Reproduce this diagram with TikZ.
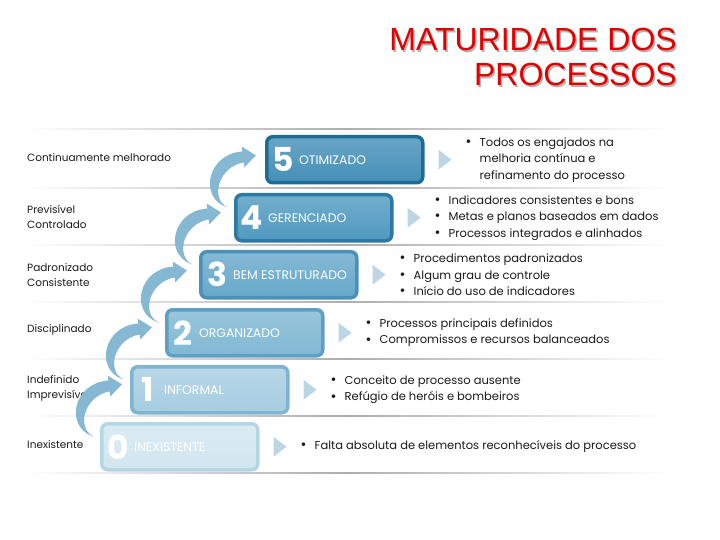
\documentclass[tikz,border=0pt]{standalone}
\usepackage{fontspec}
\setmainfont{Poppins}
\newfontfamily\titlefont{Liberation Sans}
\usetikzlibrary{calc}
\definecolor{titlered}{HTML}{E00000}
\definecolor{bf5}{HTML}{448FB7}\definecolor{bd5}{HTML}{1E6C92}
\definecolor{bf4}{HTML}{4F99C0}\definecolor{bd4}{HTML}{2C7AA1}
\definecolor{bf3}{HTML}{66A8CA}\definecolor{bd3}{HTML}{4A90B8}
\definecolor{bf2}{HTML}{80B8D3}\definecolor{bd2}{HTML}{5F9FC3}
\definecolor{bf1}{HTML}{A6CDE1}\definecolor{bd1}{HTML}{80B5D2}
\definecolor{bf0}{HTML}{D2E6F0}\definecolor{bd0}{HTML}{B6D6E6}
\definecolor{arrowc}{HTML}{86B8D3}
\definecolor{tric}{HTML}{BCD6E5}
\definecolor{txt}{HTML}{1A1A1A}
\newcommand{\bt}{\makebox[14bp][l]{\raisebox{-0.2bp}{\scalebox{1.25}{\textbullet}}}}
\begin{document}
\begin{tikzpicture}[x=1bp,y=-1bp,
  box/.style={rectangle, rounded corners=6bp, line width=3.5bp, minimum width=156bp, minimum height=46bp, inner sep=0},
  num/.style={text=white, font=\bfseries\fontsize{33bp}{36bp}\selectfont, inner sep=0},
  lab/.style={text=white, font=\fontsize{12.4bp}{14bp}\selectfont, inner sep=0},
  side/.style={text=txt, font=\fontsize{10.5bp}{15bp}\selectfont, inner sep=0, align=left, anchor=west},
  bul/.style={text=txt, font=\fontsize{11.5bp}{16.5bp}\selectfont, inner sep=0, align=left, anchor=west},
  sep/.style={left color=white, right color=white, middle color=black!32}
]
\useasboundingbox (0,0) rectangle (720,540);
% separators
\foreach \yy in {129,188,245,302,359,416,473}{
  \shade[sep] (22,\yy-0.5) rectangle (668,\yy+0.5);
}
% left labels
\node[side] (c5) at (27,158) {Continuamente melhorado};
\node[side] (c4) at (27,217) {Previsível\\Controlado};
\node[side] (c3) at (27,275) {Padronizado\\Consistente};
\node[side] (c2) at (27,330) {Disciplinado};
\node[side] (c1) at (27,388) {Indefinido\\Imprevisível};
\node[side] (c0) at (27,445) {Inexistente};
% box corners
\foreach \i/\x/\y in {0/98/420,1/128/363,2/163/306,3/197/248,4/232/191,5/263/133}{
  \coordinate (p\i) at (\x,\y);
}
% arrows (from the lower box up to the next one)
\foreach \a in {0,1,2,3,4}{
  \fill[arrowc, shift={($(p\a)+(-6,16)$)}]
    (0,0) .. controls (-27,-10) and (-19,-53) .. (16.3,-55.5)
    -- (15.7,-60.4) -- (29.9,-51.6) -- (18.3,-39.6) -- (17.7,-44.6)
    .. controls (-8,-40) and (-16,-8) .. (1.5,0.5) -- cycle;
}
% boxes
\foreach \i/\lab in {0/INEXISTENTE,1/INFORMAL,2/ORGANIZADO,3/BEM ESTRUTURADO,4/GERENCIADO,5/OTIMIZADO}{
  \node[box, draw=bd\i, top color=bf\i!80!white, bottom color=bf\i, anchor=north west] (b\i) at ($(p\i)+(2,2)$) {};
  \node[num] (n\i) at ($(b\i.west)+(18,0)$) {\i};
  \node[lab, anchor=west] (l\i) at ($(b\i.west)+(34,0)$) {\lab};
  \fill[tric] ($(b\i.east)+(14,-10)$) -- ++(13,10) -- ++(-13,10) -- cycle;
}
% bullets
\node[bul] (t5) at ($(b5.east)+(41,0)$) {\bt Todos os engajados na\\\hspace*{14bp}melhoria contínua e\\\hspace*{14bp}refinamento do processo};
\node[bul] (t4) at ($(b4.east)+(41,0)$) {\bt Indicadores consistentes e bons\\\bt Metas e planos baseados em dados\\\bt Processos integrados e alinhados};
\node[bul] (t3) at ($(b3.east)+(41,0)$) {\bt Procedimentos padronizados\\\bt Algum grau de controle\\\bt Início do uso de indicadores};
\node[bul] (t2) at ($(b2.east)+(41,0)$) {\bt Processos principais definidos\\\bt Compromissos e recursos balanceados};
\node[bul] (t1) at ($(b1.east)+(41,0)$) {\bt Conceito de processo ausente\\\bt Refúgio de heróis e bombeiros};
\node[bul] (t0) at ($(b0.east)+(41,0)$) {\bt Falta absoluta de elementos reconhecíveis do processo};
% title
\node[anchor=base east, inner sep=0, text=black!30, font=\titlefont\fontsize{32bp}{36bp}\selectfont] (h1s) at (678.5,52.5) {MATURIDADE DOS};
\node[anchor=base east, inner sep=0, text=black!30, font=\titlefont\fontsize{32bp}{36bp}\selectfont] (h2s) at (678.5,87.5) {PROCESSOS};
\node[anchor=base east, inner sep=0, text=titlered, font=\titlefont\fontsize{32bp}{36bp}\selectfont] (h1) at (677,51) {MATURIDADE DOS};
\node[anchor=base east, inner sep=0, text=titlered, font=\titlefont\fontsize{32bp}{36bp}\selectfont] (h2) at (677,86) {PROCESSOS};
\end{tikzpicture}
\end{document}
